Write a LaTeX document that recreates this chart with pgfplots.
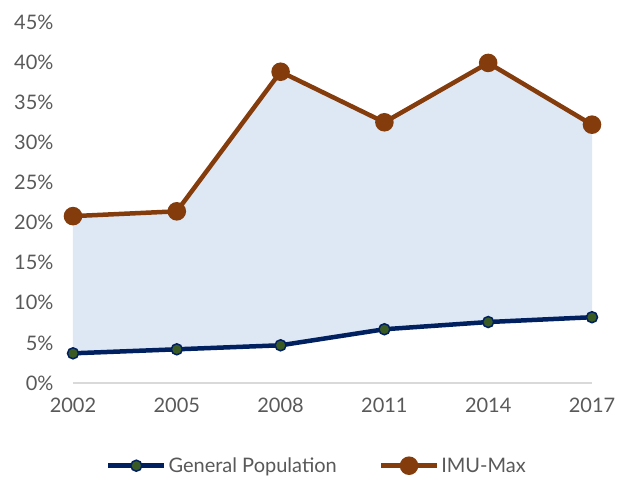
\documentclass[border=0pt]{standalone}
\usepackage{pgfplots}
\pgfplotsset{compat=1.18}
\usepgfplotslibrary{fillbetween}
\usepackage{fontspec}
\setmainfont{Lato}
\definecolor{navy}{HTML}{002060}
\definecolor{mkgreen}{HTML}{3A5A23}
\definecolor{brown}{HTML}{843C0C}
\definecolor{band}{HTML}{DEE8F4}
\definecolor{txt}{HTML}{595959}
\begin{document}
\begin{tikzpicture}
\begin{axis}[
  scale only axis,
  width=519pt, height=361pt,
  xmin=2002, xmax=2017, ymin=0, ymax=45,
  xtick={2002,2005,...,2017},
  ytick={0,5,...,45},
  x tick label style={/pgf/number format/1000 sep={}},
  yticklabel={\pgfmathprintnumber{\tick}\%},
  /pgf/number format/assume math mode=true,
  tick label style={font=\fontsize{20}{24}\selectfont, text=txt},
  axis y line*=left,
  axis x line*=bottom,
  y axis line style={draw=none},
  x axis line style={draw=black!15, line width=1.5pt, -},
  major tick length=0pt,
  xticklabel shift=11pt,
  yticklabel shift=16pt,
  clip=false,
  legend style={at={(0.47,-0.195)}, anchor=north, draw=none, legend columns=2,
    font=\fontsize{20}{24}\selectfont, text=txt,
    /tikz/every even column/.append style={column sep=40pt}},
  legend image code/.code={
    \draw[#1, mark repeat=2, mark phase=2] plot coordinates {(0pt,0pt) (28pt,0pt) (56pt,0pt)};},
]
\addplot[name path=gp, navy, line width=4.5pt, mark=*, mark size=5.5pt,
  mark options={fill=mkgreen, draw=navy, line width=1.5pt}] coordinates {
  (2002,3.7) (2005,4.2) (2008,4.7) (2011,6.7) (2014,7.6) (2017,8.2)};
\addlegendentry{General Population}
\addplot[name path=imu, brown, line width=4.5pt, mark=*, mark size=7pt,
  mark options={fill=brown, draw=brown}] coordinates {
  (2002,20.8) (2005,21.4) (2008,38.8) (2011,32.5) (2014,39.9) (2017,32.2)};
\addlegendentry{IMU-Max}
\addplot[band, forget plot, on layer=axis background] fill between[of=gp and imu];
\end{axis}
\path (-73pt,0pt) (548pt,383pt);
\end{tikzpicture}
\end{document}
